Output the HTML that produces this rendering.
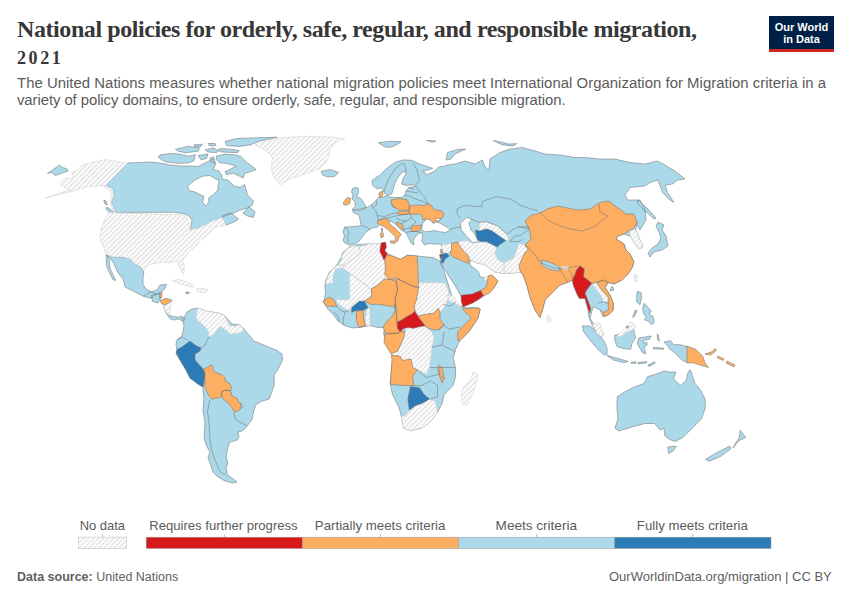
<!DOCTYPE html>
<html><head><meta charset="utf-8">
<style>
html,body{margin:0;padding:0;background:#fff;}
body{width:850px;height:600px;position:relative;overflow:hidden;font-family:"Liberation Sans",sans-serif;}
.t{position:absolute;white-space:nowrap;}
#title{left:17px;top:16px;font-family:"Liberation Serif",serif;font-weight:bold;font-size:24px;letter-spacing:-0.42px;color:#373737;line-height:26px;}
#t2{left:17px;top:47px;font-family:"Liberation Serif",serif;font-weight:bold;font-size:18px;letter-spacing:2.6px;color:#373737;line-height:22px;}
#sub{left:17px;top:74.7px;font-size:14.9px;color:#5b5b5b;line-height:17.6px;}
#logo{position:absolute;left:769px;top:16px;width:65px;height:36px;background:#002147;}
#logo .bar{position:absolute;left:0;bottom:0;width:65px;height:3px;background:#ce261e;}
#logo .txt{position:absolute;left:0;top:5px;width:65px;text-align:center;color:#fff;font-weight:bold;font-size:11px;line-height:12px;}
.lg{position:absolute;font-size:13px;color:#5b5b5b;white-space:nowrap;}
.bar{position:absolute;}
#foot1{left:17px;top:569.5px;font-size:12.5px;color:#606060;}
#foot2{left:609px;top:569px;font-size:13px;color:#606060;}
</style></head><body>
<div class="t" id="title"><span id="t1">National policies for orderly, safe, regular, and responsible migration,</span></div><div class="t" id="t2">2021</div>
<div class="t" id="sub"><span id="s1" style="letter-spacing:0.03px">The United Nations measures whether national migration policies meet International Organization for Migration criteria in a</span><br><span id="s2" style="letter-spacing:-0.075px">variety of policy domains, to ensure orderly, safe, regular, and responsible migration.</span></div>
<div id="logo"><div class="txt">Our World<br>in Data</div><div class="bar"></div></div>

<svg width="850" height="600" style="position:absolute;left:0;top:0">
<defs><pattern id="h" patternUnits="userSpaceOnUse" width="3.54" height="3.54" patternTransform="rotate(45)"><rect width="3.54" height="3.54" fill="#fff"/><rect x="0" y="0" width="1.6" height="3.54" fill="#e4e4e4"/></pattern></defs>
<path d="M47.5,173.25 L52.5,170 L59.5,165 L62.5,167.5 L67,168.75 L68,171.25 L63.75,172.5 L58.75,174.5 L55,175.5 L52,172.5Z M127.5,163 L140,162.5 L150,162 L160,163 L170,165 L180,166 L190,166 L198,166.5 L207,162 L213,159 L216,163.5 L213,169.5 L219,171 L222,175.5 L222,179.2 L228,180 L234,186 L240,187.5 L244.5,184.5 L247.5,195 L253.5,201 L252,205.5 L246,208.5 L240,210 L234,213 L228,214.5 L222,217.5 L219,222 L213,225 L199.5,228 L190.5,229.5 L192,220.5 L189,216 L184.5,213.7 L172.5,212.2 L115,212.5 L113.75,207.5 L111.25,202.5 L113.75,195 L112.5,188.75 L105.5,185.5Z M243,213 L249,207 L255,211.5 L253.5,217.5 L247.5,216Z M103.75,200 L106,201 L107.5,205 L105,204Z M106.3,254.7 L113.8,257 L123.2,257 L129.8,258.8 L134.5,263.5 L140.2,266.4 L143.9,272 L143,277.6 L143,284.2 L145.8,288.9 L151.5,291.8 L157.1,289.9 L160,285.2 L166.5,284.2 L164.6,288.9 L160.9,292.7 L157.1,294.6 L153.4,295.5 L151.5,298.4 L143.9,296.5 L132.6,290.8 L125.1,287.1 L123.2,279.5 L117.6,272 L113.8,263.5 L110,257.9Z M106.3,254.7 L109.1,258.8 L110,268.2 L115.7,280.5 L112.9,279.5 L108.2,270.1 L106.3,264.5Z M151.5,295.5 L157.1,293.6 L160,292.7 L160,298.4 L158.1,303.1 L152.4,301.2Z M169.4,315.3 L172.2,316.2 L177.8,317.2 L181.6,316.2 L185.4,319.1 L183.5,320.9 L177.8,319.1 L174.1,320 L170.3,319.1 L166,313 L163.7,306.8Z M186,292 L189,292 L189,293.5 L186,293.5Z M184,318 L187,312 L192,309 L198,308 L206,311 L218,313 L224,315 L232,324 L240,325 L244,329 L248,334 L254,341 L266,346 L276,350 L282,354 L282.6,360 L278.4,368.5 L274.2,374.8 L274.2,384.4 L272,391.8 L268.9,399.2 L261.4,401.3 L256.1,404.5 L254,409.8 L251.9,420 L250,422 L246,427.5 L242,431 L238,432 L239,437 L237,440 L230,442 L228,447 L227.5,450 L226,457 L228,463 L226,468 L227.5,475 L232,478 L237,482 L233,483 L225,481 L218,477 L213,472 L210,463 L208,457 L210,452 L207,447 L204,438 L205,423 L203,410 L204,398 L203,390 L203,387 L198,384 L190,378 L186,370 L180,360 L176,354 L177,352 L176,344 L177,340 L182,336 L184,326 L182,318Z M160,154.8 L171.3,153.4 L179.8,154.1 L188.2,156.2 L195.3,154.8 L193.9,161 L188.2,163 L177,163.3 L165.6,161.8 L162,160 L158,157Z M216.5,156.2 L225,154.1 L234.8,154.8 L240.5,156.2 L246.1,161.9 L251.8,166.1 L256,169.6 L250.4,171.8 L244.7,173.2 L243.3,178.1 L239.1,176 L233.4,173.2 L226.4,174.6 L225,171.8 L230.6,169 L236.2,166.1 L229.2,164 L219.3,162.6 L216.5,159.8Z M225,141.4 L236.2,138.6 L250.4,137.9 L277.2,137.2 L258.8,141.4 L250.4,144.9 L239.1,146.4 L226.4,145.6Z M219.3,148.5 L230.6,149.2 L239.1,150.6 L237.6,152.7 L222.1,152 L217.9,150.6Z M175.5,149.2 L188.2,146.4 L199.5,147.8 L198.1,151.3 L185.4,152.7 L178.4,151.3Z M193.9,144.9 L202.4,144.2 L201,146.4 L194.6,146.4Z M205.2,149.9 L213.6,147.8 L217.9,150.6 L216.5,152.7 L208,152Z M208,143.5 L215.1,143.5 L215.8,145.6 L209.4,145.6Z M198.1,155.5 L208,154.1 L206.6,158.4 L201,159.8Z M210,158 L214,157 L215,163 L211,162Z M222,216 L231,213 L238.5,219 L234,222 L226.5,225 L223.5,222Z M106,207.5 L109,208 L113,211.5 L112.5,213 L107,210.5Z M343.3,231.5 L344.4,227.2 L350.7,226.7 L357,226.2 L361.3,225.6 L360.2,220.9 L359.2,215.6 L353.4,212.4 L352.5,210.5 L358,210.5 L362,209.5 L367.6,207.2 L371.9,204.6 L376.1,200.3 L378.9,196.8 L383.2,197.5 L386,195.4 L388.9,196.8 L394.5,197.5 L401.6,197.5 L404.5,195.4 L405.9,191.1 L408.7,187.6 L415.8,186.1 L414.4,184.7 L405.9,185.4 L401.6,184 L403,178.3 L405.9,174.1 L404.5,171.3 L401.6,172.7 L397.4,178.3 L394.5,184 L393.1,189.7 L391.7,194 L387.4,195.4 L383.9,192.5 L381.8,187.6 L377.5,189 L372.6,185.4 L372.1,180.5 L376.1,177.6 L380.4,174.8 L385.3,169.8 L390.3,165.6 L396,162 L403,159.9 L410.1,160.2 L414.4,161.3 L420,164.2 L427.1,166.3 L432.8,168.4 L428.5,169.8 L425.7,170.6 L422.9,171.3 L427.1,174.8 L434.2,171.3 L438.5,167 L444.1,166.3 L447.5,165 L455,164 L465,161 L475,164 L482.5,160 L485,167 L489,170 L490,159 L500,152.5 L510,149 L522.5,147.5 L535,151 L545,154 L560,155 L575,157.5 L585,157.5 L600,159 L615,159 L630,162.5 L645,164 L657.5,161 L665,165 L675,171 L685,179 L677.5,180 L672.5,184 L665,185 L667.5,192.5 L674,202.5 L670,200 L662.5,192.5 L660,185 L657.5,180 L650,182.5 L645,186 L630,187.5 L625,195 L627.5,200 L640,200 L645,210 L646,220 L640,230 L637.5,225 L637,222 L636,230 L640,240 L643,247 L639,249 L634,242 L630,236 L624,234 L618,236 L616,239 L621,242 L624,244 L626,250 L630,254 L634,262 L632,268 L628,274 L622,280 L614,284 L608.3,282.5 L605,287.5 L610,295 L613.3,303.3 L613.3,310 L608.3,315 L603.3,316.7 L600,310 L596.7,308.3 L593.3,306.7 L591.7,311.7 L590,318.3 L594,324 L599.3,328 L603.8,333.8 L601.5,337.1 L597,333.8 L592.5,326 L589.2,318 L587.5,308 L585,298.3 L579.2,298.3 L576.7,293.3 L573.3,285 L572.5,280 L567.5,282.5 L560,285 L552.5,292.5 L545,300 L542.5,310 L540,317.5 L535,310 L530,297.5 L527.5,287.5 L525,280 L522.5,274 L520.5,272 L516,272.7 L504,273.5 L495,272 L490.5,269 L484.5,264.5 L477,263 L471,260 L469.5,263 L471,266 L475.5,269 L478.5,272 L480,276.5 L484.5,278 L489,276.5 L492,275 L498,281 L493.5,288.5 L489,291.5 L483.7,296 L477,300.5 L469.5,303.5 L463,306.8 L461,296 L456,287 L450,278 L445.5,270.5 L441,264.5 L440.2,257.7 L441.7,253.2 L442.5,249 L441,244 L435,244 L429,243.5 L424.5,245 L421.7,241 L422.7,235.7 L421.7,232.5 L418.5,233.6 L416.4,235.7 L413.2,240 L414.2,245.2 L411.1,243.1 L409,238.9 L406.8,234.6 L405.8,232.5 L401.5,230.4 L398.4,227.2 L394.1,223 L390,221 L388.8,220.9 L382.5,224.1 L379.3,225.1 L377.2,227.2 L372.9,227.8 L369.8,229.4 L365.5,232.5 L362.4,236.8 L359.2,241 L356,243.6 L349.6,245.2 L344.4,242.6 L342.8,240 L344.4,236.8Z M352.5,188.5 L355,187.5 L358.2,188 L358.6,192.5 L356.6,196.5 L361.2,198.9 L364.8,204.6 L366.2,207.4 L360.5,209.2 L352,209.5 L355.6,206 L354.8,201.7 L352,198.9 L353,195 L351.5,192Z M321.25,171.25 L330,169.5 L338.75,172.5 L335,176.25 L327.5,177 L322.5,175Z M447.5,152.5 L457.5,149.5 L466,149 L455,154 L451,159 L446,160Z M493.3,140.4 L501.8,142.2 L508.4,144.1 L516.8,143.6 L513,146 L501.8,144.7Z M638,200 L647,208 L656,218 L654,219 L645,211 L637,203Z M658,222 L664,225 L662,230 L666,236 L668,246 L662,250 L654,252 L650,257 L648,253 L652,248 L658,244 L661,238 L659,232 L656,226Z M381.4,228.3 L382.5,228.3 L382.5,231.5 L381.4,231.5Z M378.5,142.8 L388.8,141.3 L401,141.7 L396.4,145 L390.7,147.3 L385,147 L381.3,144.7Z M426.5,140.4 L435.9,140.9 L432.1,142.2Z M342.6,252.8 L349.1,247.1 L357.2,244.7 L366.9,243.9 L379.8,243.9 L381.4,243.1 L385.5,242.3 L386.3,247.1 L384.7,250.4 L387.1,253.6 L394.4,256.8 L400.8,259.3 L407.3,255.2 L417,256 L425.1,256.8 L433.2,257.6 L439.6,260.9 L441,264 L442.9,267.3 L446.1,277 L449.3,288 L452,296 L456,302 L460,306 L466,308 L472,307.5 L478,307.9 L480.2,309 L478,318 L469,331.5 L460,340.5 L455.5,349.5 L453.2,358.5 L455.5,367.5 L455.5,376.5 L453.2,385.5 L444.2,394.5 L442,403.5 L437.5,412.5 L430.7,421.5 L421.7,428.2 L410.5,430.5 L403.7,428.2 L401.5,417 L399.2,408 L392.5,394.5 L390.2,383.2 L391.4,369.7 L392.5,358.5 L391.4,351.7 L388,345 L383.5,333.7 L384.7,328 L376.6,327.2 L370.1,325.5 L362,327.2 L352.3,328 L344.2,325.5 L337.8,320.7 L332.9,314.2 L328.1,309.4 L324.9,304.5 L323,301.25 L324.25,300 L325.5,292.5 L324.9,285 L325.5,281.25 L329.25,272.5 L336.75,265 L341.75,256.25Z M612,286 L614,290 L610,291Z M637.3,291.3 L641.3,292.7 L641.3,299.3 L640,304.7 L636.7,302 L636.7,296Z M635.3,310 L637.3,310.7 L634,316.7 L632.7,317.3Z M582.4,325.9 L590,325.9 L597,332.6 L603.8,340.5 L607.1,348.4 L607.1,354 L603.8,355.1 L597,348.4 L590.3,340.5 L583.5,331.5Z M606.7,355.3 L616,358 L628,361.3 L624,362.7 L613.3,360Z M631.3,362.2 L636,361.8 L636,363.2 L631.3,363.4Z M638,362.5 L646.7,361.6 L646.5,363 L638,363.8Z M614.7,335.3 L620,334 L626.7,330 L633.3,328.7 L635.3,336.7 L636,337.3 L632,343.3 L630.7,349.3 L624,348.7 L617.3,346.7 L614.7,340.7Z M638.7,338 L651.3,336 L649.3,339.3 L642.7,340.7 L644,343.3 L646.7,342 L647.3,344.7 L644,347.3 L646,354 L642.7,352.7 L640,348.7 L637.3,343.3Z M657.3,334 L658.5,335 L659.3,341.3 L657.5,340Z M644,303.3 L648,307.3 L651.3,311.3 L649.3,314 L653.3,316.7 L654,322.7 L651.3,324.7 L648.7,321.3 L644.7,320 L646,316.7 L643.3,313.3 L642.7,308.7Z M648,365 L654.7,361.8 L655,363.3 L649,366.5Z M653.3,347.5 L664,348.2 L663.5,349.2 L653.3,348.8Z M664,342 L670.7,340.7 L673.3,344.7 L680,344.7 L688,346.7 L688,362.7 L682.7,360.7 L678.7,356.7 L674.7,352.7 L669.3,348.7 L668,346Z M617.3,396.8 L624,392.3 L635.3,386.6 L644.3,383.3 L647.6,376.5 L655.5,374.3 L664.5,370.9 L669,372 L675.8,372 L673.5,378.8 L680.3,385.5 L685.9,381 L688.1,372 L690.4,369.8 L692.6,376.5 L694.9,383.3 L700.5,390 L705,399 L705.4,407.5 L701.6,418.8 L692.2,428.2 L682.8,437.6 L675.3,441.4 L669.6,439.5 L664.9,435.8 L664,428.2 L660.2,430.1 L654.6,423.5 L645.2,423.5 L633.9,426.4 L618.8,431 L615,428.2 L617.9,418.8 L616.9,407.5Z M667.8,447 L676.2,446.1 L673.4,450.8 L668.7,453.6Z M705.4,459.3 L716.7,452.7 L729.9,446.1 L730.8,448.9 L720.5,456.5 L709.2,461.2Z M732.7,448 L739.3,440.5 L745.9,437.6 L743.1,433.9 L740.2,430.1 L739.3,437.6 L735.5,443.3Z" fill="#abd9e9" stroke="#747474" stroke-width="0.55" stroke-linejoin="round"/>
<path d="M127.5,163 L115,161.25 L106.25,159.5 L93.75,162 L82.5,165 L77.5,170 L71.25,172.5 L73.75,177.5 L63.75,178.75 L60,183.75 L63.75,187.5 L70,190 L45,198 L72.5,191.25 L86.25,187 L100,185.5 L105.5,185.5 L112.5,188.75 L113.75,195 L111.25,202.5 L113.75,207.5 L115,212.5 L113,210 L110.5,203 L111.5,196 L110,190 L104,187Z M255,145 L277.5,138 L305,136.25 L330,137 L345,138.75 L335,142.5 L330,150 L327.5,160 L320,168.75 L305,173.75 L290,178.75 L280,185 L273.75,177.5 L271.25,167.5 L272.5,157.5 L265,150Z M108.75,212.5 L185,215 L190,222.5 L188.75,230 L200,227.5 L212.5,221 L222.5,217.5 L226,225 L215,227.5 L207.5,235 L200.4,240 L196.6,245.6 L189.1,251.3 L182.5,260.7 L184.4,266.4 L183.5,273.9 L179.7,268.2 L177.8,260.7 L170.3,262.6 L159,262.6 L149.6,264.5 L143.9,271 L140.2,266.4 L134.5,263.5 L129.8,258.8 L123.2,257 L113.8,257 L106.3,254.7 L102.5,245 L100,237.5 L101.25,227.5 L105,218.75Z M164.6,305 L168.4,303.1 L172.2,301.2 L170.3,309.6 L169.4,315.3 L165.6,311.5 L163.7,306.8Z M172.2,280.5 L179.7,279.5 L187.2,282.4 L192.9,285.2 L194.8,287.1 L189.1,286.7 L181.6,284.2 L176,282.4Z M196.6,289 L203,288.5 L208,290 L205,292.7 L197,292Z M196,316 L198,308 L206,311 L218,313 L224,315 L230,326 L236,326 L240,325 L244,330 L240,333 L230,334 L226,330 L220,326 L214,334 L209,337 L208,330 L202,324 L197,320Z M419.4,282.7 L444.5,282.7 L447.7,288.4 L449.3,296.4 L445.8,304.2 L440,312.5 L438.3,308.3 L433.3,313.3 L426.7,314.2 L418.3,315.8 L415.8,311.7 L414.2,306.7 L414.2,301.7 L416.7,295 L417,288.4Z M405,331.3 L406.5,327.5 L414,328.3 L419.2,326.7 L424.5,326 L432,332 L434.1,338.2 L431.9,347.2 L430.7,358.5 L429.6,367.5 L426.2,374.2 L417.2,369.7 L412.7,367.5 L411,359 L402.8,360.5 L399.8,356 L391.5,355.3 L392.3,353 L397.5,351.5 L400.5,344.8 L403.5,338.8Z M406,414.7 L409.4,410.2 L415,405.7 L421.7,403.5 L429.6,399 L435.2,401.2 L437.5,412.5 L430.7,421.5 L421.7,428.2 L410.5,430.5 L403.7,428.2 L401.5,417Z M366.9,309.4 L368.5,306.1 L370,311 L370,320 L370.1,325.5 L366,326 L365.3,318Z M349.25,275 L351.75,274.4 L370.5,288.75 L371.75,295 L364.25,301.25 L359.25,301.25 L351.75,307.5 L349.25,311.25 L346.75,310 L338,303.75 L335.5,299.4 L346.75,300 L349.9,298.75Z M359.25,246.9 L370.5,243.75 L380.5,243.75 L381.75,251.25 L384.25,258.75 L385.5,270 L389.25,277.5 L378,285 L370.5,288.75 L351.75,274.4 L343,268 L344.25,265 L349.25,261.25 L355.5,257.5 L360.5,253.75Z M341.75,256.25 L346.75,248.75 L354.25,245.6 L359.25,246.9 L360.5,253.75 L355.5,257.5 L349.25,261.25 L344.25,265 L338,265 L341.75,260Z M344.25,265 L343,268 L335.5,268.75 L334.25,272.5 L333,276.25 L333,283.1 L325.5,283.75 L328,276.25 L333,268.75 L338,265Z M446.7,295.2 L452.5,295.2 L457.2,302.2 L460.7,307.4 L454.8,303.3 L449,301Z M479.4,222.5 L485.7,221.5 L497.4,225.7 L506.9,234.2 L509,239.5 L505.8,240.6 L499.5,236.3 L492.1,231 L486.8,228.9 L479.4,231 L479.4,226.8Z M457.5,242 L466.5,240.5 L471,242.7 L478.5,242 L483,242 L490.5,244 L496.5,247 L495,254 L498,260 L504,263 L504,273.5 L495,272 L490.5,269 L484.5,264.5 L477,263 L471,260 L468,255.5 L463.5,251 L459,245Z M504,263 L513,258.5 L516,252.5 L519,243.5 L525,245 L528,249.5 L525,252.5 L522,258.5 L519,266 L520.5,272 L516,272.7 L504,273.5Z M442.5,245 L451.5,243.5 L451.5,249.5 L447,254 L442.5,251.7 L441,248.7Z M484.5,278 L488.2,275.7 L487.5,281 L485,280Z M547.5,315 L550,316 L551,321 L548,322.5 L547,319Z M591.7,283.3 L596.7,282.5 L601.7,290 L608.3,297.5 L608.3,302.5 L603.3,301.7 L601.7,296.7 L596.7,290Z M630,230 L636,230 L640,240 L643,247 L639,249 L634,242 L630,236Z M634,274 L637,275 L637,282 L634,280Z M592.5,324.7 L599.3,322.5 L603.8,333.8 L601.5,337.1 L597,333.8Z M473.5,372 L478,374.2 L475.7,385.5 L471.2,396.7 L466.7,405.7 L462.2,403.5 L461.1,394.5 L463.3,387.7 L469,381Z" fill="url(#h)" stroke="#cfcfcf" stroke-width="0.55" stroke-linejoin="round"/>
<path d="M160,300.2 L166.5,298.4 L172.2,300.2 L168.4,303.1 L164.6,305 L161.8,304Z M204.2,368.5 L207.4,367.4 L210.6,365.3 L212.7,365.8 L213.8,371.7 L222.2,374.8 L225.4,378 L225.4,381.2 L229.7,383.3 L231.8,388.6 L230.7,390.7 L225.4,390.2 L221.7,391.8 L221.2,397.1 L217.5,398.1 L211.7,399.2 L208.5,395 L204.8,386.5 L204.8,375.9Z M221.7,391.8 L225.4,390.2 L230.7,391.2 L231.8,396 L237.1,398.1 L238.1,401.8 L240.8,403.4 L240.3,408.7 L237.1,411.9 L233.9,410.8 L232.3,408.2 L227.5,402.4 L223.3,399.2 L221.7,396Z M160,292.7 L161.8,291.8 L161.8,297.4 L160,298.4Z M343.5,202.4 L347,197.5 L350.6,198.2 L349.9,203.2 L346.3,205.3 L343.5,204.6Z M379,193 L382,191 L383,194 L382,197 L380,197.5 L379,195Z M391,200 L398,198.5 L407,199.5 L409,203 L410,209 L408,210.5 L403,210 L399,210.5 L396,208 L392.5,205.5 L391.5,203Z M396.8,212.9 L401.5,211.4 L407.9,210.8 L410,212.9 L404.7,214.5 L399.4,215Z M409,206 L415,205 L424,205.5 L428,204 L431,205 L434,209.5 L442,211 L444,214 L442,218.2 L438.5,221.2 L436.2,221.8 L433.2,223.5 L430.9,220.6 L426.8,218.8 L422.6,220 L422,215 L419,214 L414,214.5 L410,214 L409,210Z M377.7,220.9 L382.5,218.8 L386.7,218.2 L388.8,220.9 L389.9,224.1 L395.2,228.3 L398.4,231.5 L401.5,234.6 L399.4,236.8 L398.4,238.9 L397.3,242 L395.2,240.5 L395.7,236.8 L392,233.6 L387.8,229.4 L383.5,226.2 L380.4,225.1 L377.7,223.5Z M389.9,241 L395.2,241 L395.2,243.6 L391,243.1Z M380.4,233.1 L383,232.5 L383.5,236.8 L380.9,237.8Z M396.2,222 L401.5,223.5 L403.6,227.8 L404.7,229.9 L402.6,229.4 L399.4,226.7 L396.8,224.6Z M411.1,226.2 L416.4,225.6 L421.7,225.1 L420.6,229.4 L416.4,231.5 L412.1,231.5 L411.1,228.8Z M386.3,254.4 L394.4,256.8 L400.8,259.3 L407.3,255.2 L417,256 L417.8,265.7 L418.6,287.5 L412.2,285.9 L397.6,278.7 L389.5,279.5 L384.7,274.6 L385.5,266.5 L384.7,259.3Z M418.3,315.8 L426.7,314.2 L433.3,313.3 L438.3,308.3 L440,312.5 L440,319.2 L444.2,325 L438.3,330 L430,329.2 L425,325.8 L419.2,318.3Z M397.6,278.7 L412.2,285.9 L418.6,287.5 L416.7,299.2 L414.2,306.7 L415,311.3 L411.7,314.2 L406.7,316.7 L401.7,320 L397.1,322.5 L396.7,317.5 L396.7,307.5 L395,304.2 L395.2,298.1 L397.6,290 L396,281.9Z M371.7,288.4 L378,285 L384.7,278.7 L389.5,279.5 L396,281.1 L397.6,290 L395.2,298.1 L395.3,307.2 L385.9,305.4 L376.5,304.2 L370.8,304.6 L368,302.5 L363.7,301.3 L371.7,296.4Z M395,304.2 L396.7,317.5 L397.1,322.5 L397.5,328.3 L400,331.7 L398.3,333.3 L392.5,333.3 L385,333.3 L383.3,326.7 L386.7,321.7 L392.5,315.8 L395,310Z M384.8,334.3 L392.5,333.3 L398.3,333.3 L400,331.7 L405,331.3 L403.5,338.8 L400.5,344.8 L397.5,351.5 L392.3,353 L391.5,354.5 L388.5,350 L384,342.5Z M391.5,355.3 L399.8,356 L402.8,360.5 L411,359 L412.7,367.5 L417.2,369.7 L412.7,376.5 L413.9,385.5 L403.7,385.5 L390.2,384.3 L391.4,369.7 L392,360Z M438.6,365.2 L442,367.5 L444.2,378.7 L442,383.2 L439.7,376.5Z M462.2,309 L478,307.9 L480.2,309 L478,318 L469,331.5 L460,340.5 L457.7,340.5 L457.7,331.5 L471.2,318Z M356.4,311 L362.8,310.2 L363.7,319 L365.3,325.5 L358.8,327.2 L356.4,320.7Z M323,301.25 L329.25,296.9 L334.25,300 L336.75,306.25 L328,306.25 L325.5,305Z M537.5,214 L547.5,209 L557.5,206 L565,207.5 L577.5,210 L590,209 L600,202.5 L607.5,201 L610,202 L618,208 L626,214 L634,214 L637,222 L634,228 L630,230 L624,234 L618,236 L616,239 L621,242 L624,244 L626,250 L630,254 L634,262 L632,268 L628,274 L622,280 L614,284 L608.3,282.5 L603.3,280 L596.7,282.5 L591.7,283.3 L583.3,276.7 L584.2,269.2 L580,265.8 L576.7,270 L572.5,280 L567.5,282.5 L560,285 L552.5,292.5 L545,300 L542.5,310 L540,317.5 L535,310 L530,297.5 L527.5,287.5 L525,280 L522.5,274 L520.5,272 L519,266 L522,258.5 L525,252.5 L528,249.5 L525,245 L531,239 L529.5,230 L525,221 L531,215Z M451.5,243.5 L457.5,242 L459,245 L463.5,251 L468,255.5 L469.5,263 L466.5,263 L460.5,260 L453,257 L450,254 L451.5,249.5Z M440.7,249.2 L442.5,249.8 L441.7,253.2 L440.5,252.5Z M488.2,275.7 L492,275 L498,281 L493.5,288.5 L490,292.8 L484,295.8 L480.5,290.5 L486,287 L487.5,281Z M596.7,282.5 L603.3,280 L608.3,282.5 L605,287.5 L610,295 L613.3,303.3 L613.3,310 L608.3,315 L603.3,316.7 L603.3,312.5 L608.3,310 L608.3,302.5 L608.3,297.5 L601.7,290Z M687,346.1 L696,349.5 L702.8,356.3 L705,363 L708.4,367.5 L700.5,365.3 L693.8,363 L687,363Z M705,354 L711.8,351.8 L715.1,348.4 L716.3,350.6 L710.6,355.1Z M718,356 L724,359 L723,360.5 L717,357.5Z M727,361 L735,365 L734,367 L726,363Z" fill="#fdae61" stroke="#747474" stroke-width="0.55" stroke-linejoin="round"/>
<path d="M381.4,243.1 L385.5,242.3 L386.3,247.1 L384.7,250.4 L387.1,253.6 L385.5,257.6 L383.9,260.1 L382.2,256 L379.8,251.2 L380.6,246.3Z M397.1,322.5 L401.7,320 L406.7,316.7 L411.7,314.2 L415,311.3 L416.7,314.2 L419.2,318.3 L425,325.8 L419.2,326.7 L413.3,328.3 L408.3,327.5 L404.2,328.3 L400,331.7 L397.5,328.3Z M439.5,254.7 L441.7,254.3 L441.7,257.7 L440.2,257.7Z M461.2,295.2 L472.3,294 L480.5,290.5 L483.4,295.8 L479.4,298.7 L472.3,303.3 L463,306.8 L461.2,301Z M580,265.8 L584.2,269.2 L583.3,276.7 L591.7,283.3 L586.7,290 L585,293.3 L588.3,301.7 L590.8,308.3 L590,313.3 L587.5,306.7 L585,298.3 L579.2,298.3 L576.7,293.3 L573.3,285 L572.5,280 L575,275 L576.7,270Z" fill="#d7191c" stroke="#747474" stroke-width="0.55" stroke-linejoin="round"/>
<path d="M176,352 L178,349 L182,347 L186,344 L190,341 L195,345 L201,348 L200,351 L195,354 L195,360 L203,369 L205,374 L204,382 L203,387 L198,384 L190,378 L186,370 L180,360Z M410.5,386.6 L419.5,387.7 L424,394.5 L429.6,399 L421.7,403.5 L415,405.7 L409.4,410.2 L407.8,399Z M351.75,307.5 L359.25,301.25 L364.25,301.25 L368,307.5 L364.25,310 L355.5,310.6 L351.75,312.5Z M475.1,230 L479.4,231 L486.8,228.9 L492.1,231 L499.5,236.3 L505.8,240.6 L499.5,244.8 L497.4,246.9 L493.1,244.8 L486.8,241.6 L480.4,241.6 L477.2,239.5 L476.2,234.2Z M441.7,254.3 L447,253.2 L449.2,256.2 L445.5,258.5 L443.2,263 L441,263 L441.7,258.5Z" fill="#2c7bb6" stroke="#747474" stroke-width="0.55" stroke-linejoin="round"/>
<path d="M541.7,260 L549,262 L557,265.5 L560,268 L559,271 L550,269.5 L542,265.5Z" fill="#abd9e9" stroke="#747474" stroke-width="0.55" stroke-linejoin="round"/>
<path d="M616.5,336.5 L622,331 L628,326 L630.7,321.5 L636,325.5 L634.5,329 L627.5,332 L621,336.5Z M561.7,266.7 L568.3,266.5 L568.3,269.2 L562,269.5Z" fill="url(#h)" stroke="#cfcfcf" stroke-width="0.55" stroke-linejoin="round"/>
<path d="M626.5,326 L628.5,326.2 L628,328 L626.3,327.8Z" fill="#fdae61" stroke="#747474" stroke-width="0.55" stroke-linejoin="round"/>
<path d="M187.5,186 L195,180 L202.5,176.2 L210,175.5 L216,179.2 L219,180 L217.5,190.5 L213,195 L208.5,198 L209.2,201 L206.2,206.2 L202.5,202.5 L204,196.5 L195,192 L189,190.5Z M422.6,223.5 L426.8,218.8 L430.9,220.6 L433.2,223.5 L436.2,221.8 L438.5,222.4 L442.6,224.7 L447.9,227.6 L450.3,230 L445.6,232.4 L439.7,231.8 L434.4,230.6 L430.3,231.2 L424.4,231.8 L421.5,229.4Z M435,218.8 L440.3,218.2 L439.7,220.6 L436.2,220.9Z M460.3,223.6 L466.7,217.2 L472,219.4 L468.8,222.5 L470.9,230 L474.1,233.1 L478.3,241.6 L473,242.7 L467.7,237.4 L461.4,230Z" fill="#fff" stroke="#747474" stroke-width="0.55" stroke-linejoin="round"/>
<path d="M209.7,400 L207.5,411.7 L209,423 L210,440 L211.7,450 L215,460 L220,471.7 L225,475 M209,337 L205,345 L201,348 M177,340 L182,337 L188,340 M234,411 L235,419 L239,421.7 L246.7,425.8 M239,410 L243,406.7 L240.8,403.4 M143.75,296.25 L150,292 L156.25,293.75 M361.3,225.6 L366,226.8 L369.8,229.4 M344.4,227.2 L348,229.4 L349.1,232.5 L347.5,236.8 L348.6,241 L346.5,243.1 M371.9,204.6 L373,208.2 L376,211.4 L377.2,215.6 L378.2,218.8 L377.7,220.9 M376.1,200.3 L377,204 L373,208.2 M377.2,215.6 L385,216.5 L391,214 L396.8,212.9 M391.5,203 L392.5,207 L396,208 M377.7,220.9 L382.5,218.8 L386.7,218.2 L392,217 L399.4,215 M399.4,215 L404.7,214.5 L410,214 L412,218 L406,221 L400,220 L396,218 M412,218 L416,222 L411.1,226.2 M401.5,223.5 L406,221 M404.5,195.4 L410,196 L415,199 L422,201 L428,204 M405.9,191.1 L412,192 L418,193 M408.7,187.6 L414,189 M405.8,232.5 L410,231.5 L416,231.5 L421.7,232.5 M450,229.2 L455,228 L460.5,227 M404.7,229.9 L408,228 L411.1,228.8 M438.3,330 L444.2,325 L448.7,329.2 L460,327 M444.2,331.5 L442,345 L455.5,351.7 M431.9,347.2 L442,345 M429.6,367.5 L437.5,367.5 L455.5,367.5 M417.2,369.7 L426.2,377.6 L438.6,374.2 L437.5,367.5 M413.9,385.5 L421.7,385.5 L430.7,381 L437.5,385.5 L437.5,396.7 L430.7,399 M438.6,374.2 L444.2,378.7 M336.2,306.1 L340,310 L345,312 L350,310 M345,312 L343,320 L344,325 M334,312 L338,316 L339,322 M442.9,304.5 L450,306 L456,302 M540,212.5 L547.5,220 L557.5,225 L570,229 L582,231 L594,227 L600,222 L608,216 L600,212 L599,204 M525,245 L530,249 L535,255 L540,262.5 L552.5,267.5 L560,269 L570,267.5 L578,266 M457.1,208.8 L464.5,205.6 L481.5,206.7 L482.5,201.4 L496.3,196.6 L511.1,199.2 L520.7,205.6 L537.6,210.9 M472,219.4 L479.4,222.5 L485.7,221.5 L497.4,225.7 L506.9,234.2 L512.2,230 L518.6,226.8 L529.2,226.8 M415.8,186.1 L420,192 L425,198 L428,204 M404,163 L406.7,172.4 M413,163 L417,170 L419.5,180 L415.5,185.5 M403,163 L396,168 L389,178 L385,188 L384,192 M598.3,303.3 L603.3,301.7 L608.3,303.3 M600,310 L603.3,312.5 M560,270 L564,276 L567.5,282.5 M568.3,269.2 L572,274 L572.5,280 M457.1,208.8 L457.1,214.1 L460.3,218.3 M518.6,226.8 L529.2,228.9 L520.7,235.3 L514.3,236.3 L510.1,241.6 L518.6,241.6 L522.8,239.5" fill="none" stroke="#747474" stroke-width="0.55"/>
</svg>
<svg width="850" height="600" style="position:absolute;left:0;top:0">
<defs><pattern id="hl" patternUnits="userSpaceOnUse" width="3.54" height="3.54" patternTransform="rotate(45)"><rect width="3.54" height="3.54" fill="#fff"/><rect x="0" y="0" width="1.6" height="3.54" fill="#e4e4e4"/></pattern></defs>
<g font-family="Liberation Sans, sans-serif" font-size="13" fill="#5b5b5b">
<text x="79.7" y="530.3" textLength="45.4" lengthAdjust="spacingAndGlyphs">No data</text>
<text x="149.3" y="530.3" textLength="148.3" lengthAdjust="spacingAndGlyphs">Requires further progress</text>
<text x="314.8" y="530.3" textLength="130.6" lengthAdjust="spacingAndGlyphs">Partially meets criteria</text>
<text x="495.6" y="530.3" textLength="81.4" lengthAdjust="spacingAndGlyphs">Meets criteria</text>
<text x="636.8" y="530.3" textLength="111.1" lengthAdjust="spacingAndGlyphs">Fully meets criteria</text>
</g>
<g stroke="#999" stroke-width="0.6">
<line x1="102.5" y1="534" x2="102.5" y2="537.2"/>
<line x1="224.4" y1="534" x2="224.4" y2="537.2"/>
<line x1="380.6" y1="534" x2="380.6" y2="537.2"/>
<line x1="536.7" y1="534" x2="536.7" y2="537.2"/>
<line x1="692.9" y1="534" x2="692.9" y2="537.2"/>
</g>
<rect x="78.5" y="537.2" width="48" height="11.3" fill="url(#hl)" stroke="#cfcfcf" stroke-width="0.8"/>
<rect x="146.2" y="537.2" width="156.2" height="11.3" fill="#d7191c" stroke="#999" stroke-width="0.5"/>
<rect x="302.4" y="537.2" width="156.2" height="11.3" fill="#fdae61" stroke="#999" stroke-width="0.5"/>
<rect x="458.6" y="537.2" width="156.2" height="11.3" fill="#abd9e9" stroke="#999" stroke-width="0.5"/>
<rect x="614.8" y="537.2" width="156.2" height="11.3" fill="#2c7bb6" stroke="#999" stroke-width="0.5"/>
</svg>


<div class="t" id="foot1"><b>Data source:</b> United Nations</div>
<div class="t" id="foot2">OurWorldinData.org/migration | CC BY</div>
</body></html>
